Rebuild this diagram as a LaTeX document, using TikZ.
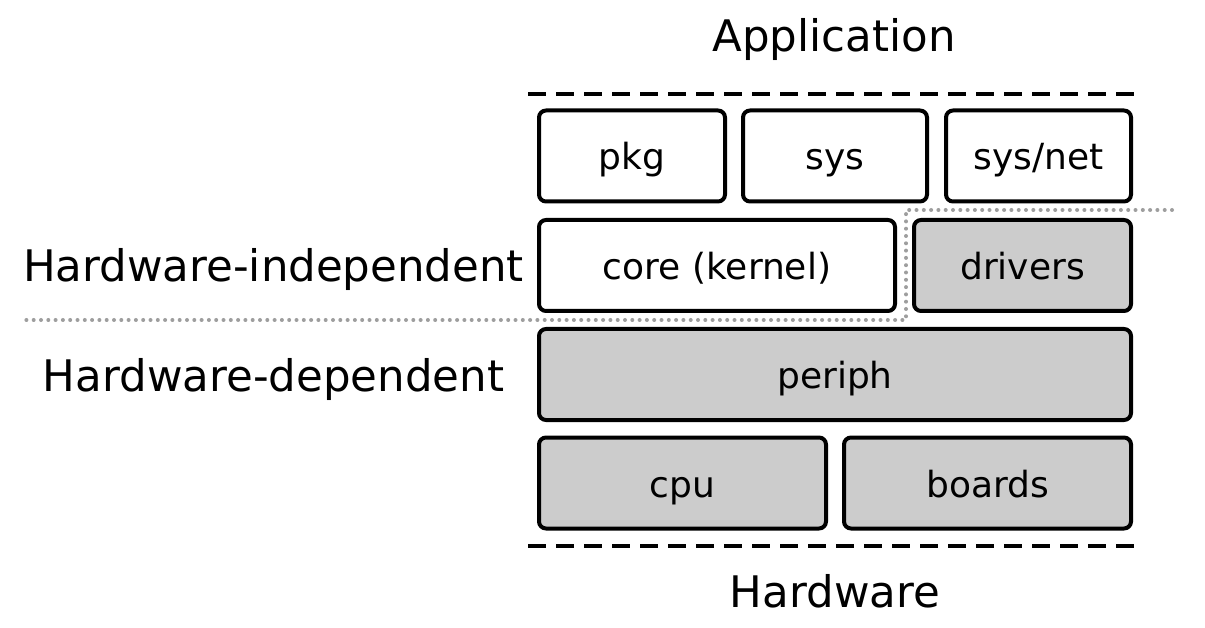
\documentclass[tikz,border=0pt]{standalone}
\usepackage{fontspec}
\setmainfont{DejaVu Sans}
\definecolor{boxgray}{HTML}{CCCCCC}
\definecolor{dotgray}{HTML}{9E9E9E}
\begin{document}
\begin{tikzpicture}[x=1pt,y=-1pt,
  box/.style={draw=black, line width=4pt, rounded corners=7pt, minimum height=91pt,
    inner sep=0pt, text height=28pt, text depth=0pt, font=\fontsize{36}{40}\selectfont},
  hwbox/.style={box, fill=boxgray},
  swbox/.style={box, fill=white},
  layer/.style={font=\fontsize{43.5}{50}\selectfont, inner sep=0pt, anchor=base},
  boundary/.style={line width=4pt, dash pattern=on 18pt off 10pt},
  split/.style={draw=dotgray, line width=4pt, line cap=round, dash pattern=on 0pt off 7.3pt}]
\useasboundingbox (0,0) rectangle (1205,628);
\fill[white] (0,0) rectangle (1205,628);

% layer titles
\node[layer] (app) at (834,52) {Application};
\node[layer] (hw) at (835,607) {Hardware};
\node[layer] (hwind) at (273.5,282) {Hardware-independent};
\node[layer] (hwdep) at (273.5,391) {Hardware-dependent};

% boundaries
\coordinate (tl) at (528,94);
\coordinate (tr) at (1137,94);
\coordinate (bl) at (528,546);
\coordinate (br) at (1137,546);
\draw[boundary] (tl) -- (tr);
\draw[boundary] (bl) -- (br);

% dotted split between independent and dependent parts
\coordinate (d1) at (1172,210);
\coordinate (d2) at (906,210);
\coordinate (d3) at (906,320);
\coordinate (d4) at (22,320);
\draw[split] (d1) -- (d2) -- (d3) -- (d4);

% boxes
\node[swbox, minimum width=186pt] (pkg) at (632,156) {pkg};
\node[swbox, minimum width=184pt] (sys) at (835,156) {sys};
\node[swbox, minimum width=185pt] (sysnet) at (1038.5,156) {sys/net};
\node[swbox, minimum width=356pt] (core) at (717,265.5) {core (kernel)};
\node[hwbox, minimum width=217pt] (drivers) at (1022.5,265.5) {drivers};
\node[hwbox, minimum width=592pt] (periph) at (835,374.5) {periph};
\node[hwbox, minimum width=287pt] (cpu) at (682.5,483) {cpu};
\node[hwbox, minimum width=287pt] (boards) at (987.5,483) {boards};
\end{tikzpicture}
\end{document}
